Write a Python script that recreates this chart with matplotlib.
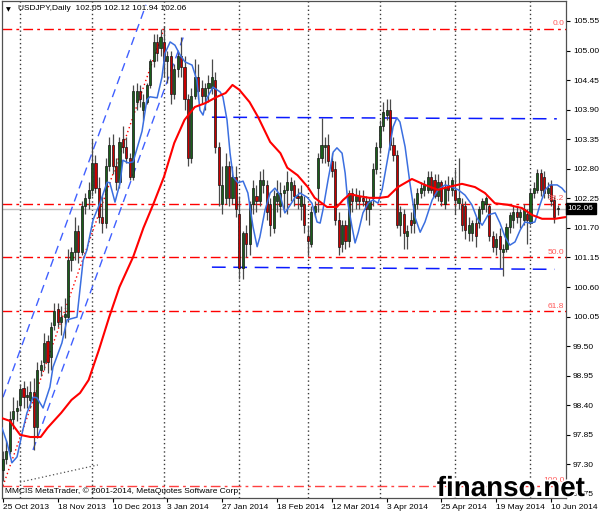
import matplotlib
matplotlib.use("Agg")
import matplotlib.pyplot as plt
import matplotlib.patheffects as pe
import matplotlib.transforms as mtransforms
import numpy as np

# ---------------- data ----------------
symbol = "USDJPY,Daily"
header_ohlc = ["102.05", "102.12", "101.94", "102.06"]

opens = [97.20, 97.40, 97.55, 98.15, 98.30, 98.40, 98.72, 98.55, 98.50, 98.65,
         98.00, 99.05, 99.20, 99.60, 99.30, 99.90, 100.20, 99.95, 100.05, 100.05,
         101.10, 101.25, 101.65, 101.25, 102.10, 102.25, 102.40, 102.90, 102.45, 101.90,
         101.80, 102.85, 103.25, 102.85, 102.55, 103.35, 103.20, 103.00, 102.65, 104.05,
         104.25, 103.90, 104.05, 104.35, 104.80, 105.15, 105.05, 105.15, 104.80, 104.90,
         104.20, 104.65, 104.90, 104.70, 104.10, 103.00, 104.15, 104.50, 104.30, 104.15,
         104.30, 104.30, 104.45, 103.20, 102.15, 102.25, 102.85, 102.25, 102.65, 101.95,
         100.95, 101.60, 101.40, 102.15, 102.30, 102.20, 102.50, 102.50, 102.15, 101.70,
         102.20, 102.10, 102.35, 102.40, 102.40, 102.50, 102.30, 102.10, 102.15, 101.55,
         101.40, 102.00, 102.45, 103.00, 103.20, 103.25, 102.95, 102.80, 101.85, 101.40,
         101.75, 101.45, 102.35, 102.20, 102.30, 102.25, 102.20, 102.05, 102.25, 102.80,
         103.20, 103.60, 103.80, 103.90, 103.25, 103.05, 101.75, 101.95, 101.55, 101.85,
         101.80, 102.15, 102.35, 102.40, 102.40, 102.65, 102.60, 102.30, 102.55, 102.15,
         102.50, 102.41, 102.41, 102.16, 102.13, 102.10, 101.60, 101.60, 101.80, 101.80,
         102.05, 102.15, 102.10, 101.55, 101.35, 101.55, 101.25, 101.30, 101.72, 101.85,
         102.00, 101.90, 101.85, 101.95, 101.80, 102.35, 102.40, 102.72, 102.65, 102.35,
         102.50, 102.22, 102.05]
highs = [97.55, 97.75, 98.30, 98.55, 98.50, 98.80, 98.85, 98.75, 98.85, 98.90,
         99.20, 99.25, 99.75, 99.70, 99.95, 100.30, 100.30, 100.25, 100.40, 101.30,
         101.35, 101.90, 101.75, 102.20, 102.35, 102.55, 103.35, 103.05, 102.65, 102.30,
         103.00, 103.40, 103.45, 103.00, 103.40, 103.60, 103.40, 103.10, 104.35, 104.40,
         104.35, 104.20, 104.40, 104.85, 105.30, 105.30, 105.40, 105.45, 105.00, 105.00,
         104.75, 105.00, 105.25, 104.90, 104.20, 104.30, 104.85, 104.75, 104.45, 104.40,
         104.55, 104.85, 104.60, 103.30, 102.85, 103.10, 102.95, 102.85, 102.85, 102.30,
         101.65, 101.75, 102.20, 102.60, 102.50, 102.75, 102.80, 102.60, 102.25, 102.40,
         102.60, 102.55, 102.50, 102.75, 102.65, 102.60, 102.45, 102.50, 102.30, 101.75,
         102.10, 102.20, 103.10, 103.75, 103.40, 103.45, 103.10, 102.95, 102.00, 101.85,
         101.85, 102.40, 102.45, 102.45, 102.40, 102.40, 102.30, 102.25, 102.90, 103.30,
         103.70, 104.05, 104.10, 104.10, 103.40, 103.15, 102.10, 102.05, 101.75, 102.00,
         102.25, 102.45, 102.55, 102.60, 102.75, 102.75, 102.70, 102.70, 102.60, 102.60,
         102.66, 102.65, 102.79, 103.00, 102.25, 102.20, 101.90, 101.85, 101.90, 102.10,
         102.25, 102.30, 102.15, 101.65, 101.60, 101.70, 101.40, 101.80, 102.00, 102.10,
         102.10, 102.05, 102.15, 102.05, 102.45, 102.55, 102.80, 102.80, 102.75, 102.55,
         102.60, 102.30, 102.12]
lows = [97.00, 97.30, 97.50, 97.95, 98.10, 98.30, 98.35, 98.35, 98.35, 97.57,
        97.80, 98.95, 99.05, 99.00, 99.05, 99.80, 99.85, 99.70, 99.65, 99.95,
        100.90, 101.10, 101.05, 101.20, 101.95, 102.05, 102.30, 102.35, 101.80, 101.60,
        101.70, 102.75, 102.70, 102.40, 102.45, 103.10, 102.90, 102.60, 102.60, 103.90,
        103.95, 103.70, 104.00, 104.30, 104.70, 104.80, 104.90, 104.50, 104.40, 104.00,
        104.10, 104.50, 104.50, 103.90, 102.85, 102.90, 104.10, 104.10, 104.00, 103.90,
        104.05, 104.20, 103.10, 102.10, 101.95, 102.15, 102.10, 102.15, 101.90, 100.75,
        100.75, 101.15, 101.20, 101.95, 102.00, 102.10, 102.35, 101.85, 101.55, 101.60,
        102.00, 101.90, 102.05, 101.95, 102.20, 102.10, 102.05, 101.85, 101.60, 101.20,
        101.35, 101.90, 102.00, 102.90, 102.90, 102.85, 102.65, 101.75, 101.20, 101.25,
        101.30, 101.35, 102.00, 102.05, 102.05, 102.10, 101.85, 101.75, 102.10, 102.70,
        103.10, 103.50, 103.70, 103.15, 102.95, 101.70, 101.55, 101.30, 101.30, 101.60,
        101.60, 102.05, 102.25, 102.30, 102.35, 102.35, 102.25, 102.20, 102.10, 102.05,
        102.20, 102.30, 101.95, 102.05, 101.65, 101.50, 101.45, 101.45, 101.35, 101.70,
        101.95, 102.00, 101.45, 101.25, 101.20, 100.95, 100.80, 101.25, 101.60, 101.70,
        101.80, 101.70, 101.75, 101.40, 101.75, 102.25, 102.35, 102.30, 102.25, 102.25,
        102.10, 101.80, 101.94]
closes = [97.40, 97.55, 98.15, 98.30, 98.35, 98.70, 98.55, 98.60, 98.65, 98.00,
          99.05, 99.15, 99.55, 99.20, 99.85, 100.15, 99.95, 100.05, 100.10, 101.10,
          101.25, 101.65, 101.25, 102.10, 102.25, 102.40, 102.90, 102.45, 101.90, 101.80,
          102.85, 103.25, 102.85, 102.55, 103.30, 103.20, 103.00, 102.65, 104.25, 104.25,
          104.10, 104.05, 104.35, 104.80, 105.15, 104.95, 105.25, 104.80, 104.90, 104.20,
          104.65, 104.90, 104.70, 104.10, 103.00, 104.15, 104.50, 104.25, 104.15, 104.30,
          104.40, 104.50, 103.20, 102.50, 102.50, 102.85, 102.25, 102.65, 102.05, 100.95,
          101.60, 101.40, 102.15, 102.45, 102.20, 102.60, 102.60, 102.00, 101.75, 102.30,
          102.35, 102.35, 102.40, 102.55, 102.55, 102.30, 102.25, 102.30, 101.75, 101.45,
          102.00, 102.10, 103.00, 103.25, 103.25, 102.95, 102.75, 101.85, 101.35, 101.75,
          101.45, 102.35, 102.20, 102.30, 102.20, 102.20, 102.05, 102.20, 102.80, 103.20,
          103.60, 103.85, 103.90, 103.25, 103.05, 101.75, 102.00, 101.60, 101.65, 101.75,
          102.15, 102.35, 102.45, 102.50, 102.65, 102.40, 102.30, 102.55, 102.20, 102.45,
          102.41, 102.59, 102.22, 102.26, 101.75, 101.66, 101.75, 101.80, 101.55, 102.05,
          102.20, 102.25, 101.55, 101.35, 101.50, 101.30, 101.30, 101.72, 101.94, 102.00,
          101.90, 102.00, 102.05, 101.85, 102.35, 102.45, 102.72, 102.40, 102.35, 102.45,
          102.20, 101.90, 102.06]

date_labels = ["25 Oct 2013", "18 Nov 2013", "10 Dec 2013", "3 Jan 2014", "27 Jan 2014",
               "18 Feb 2014", "12 Mar 2014", "3 Apr 2014", "25 Apr 2014", "19 May 2014",
               "10 Jun 2014"]
date_label_bars = [0, 16, 32, 48, 64, 80, 96, 112, 128, 144, 160]
month_start_bars = [5, 26, 47, 69, 89, 110, 132, 154]

price_ticks = [96.75, 97.30, 97.85, 98.40, 98.95, 99.50, 100.05, 100.60, 101.15,
               101.70, 102.25, 102.80, 103.35, 103.90, 104.45, 105.00, 105.55]

red_ma_bars = [-0.3, 2, 5, 8, 11, 13, 17, 20, 22.5, 25, 28, 31, 34, 38, 41, 44, 47, 50, 53,
               56, 59, 62.5, 65, 67, 69, 72, 74.5, 78, 81, 83, 86, 89, 91, 94.6, 97.5, 99.3,
               101.3, 104, 107, 110, 112.4, 115.3, 119.4, 123.2, 127, 130, 134, 137.8, 140.7,
               143.6, 147.4, 151.5, 154.5, 157.4, 161.2, 164.1]
red_ma_vals = [98.16, 98.11, 97.85, 97.81, 97.81, 97.98, 98.26, 98.50, 98.63, 98.87,
               99.43, 100.04, 100.60, 101.16, 101.70, 102.16, 102.65, 103.28, 103.71,
               103.95, 104.02, 104.14, 104.21, 104.36, 104.27, 104.04, 103.76, 103.30,
               103.09, 102.82, 102.68, 102.46, 102.26, 102.09, 102.09, 102.22, 102.33,
               102.29, 102.26, 102.26, 102.28, 102.46, 102.61, 102.50, 102.41, 102.46,
               102.52, 102.46, 102.35, 102.16, 102.13, 102.07, 101.94, 101.87, 101.87, 101.90]

blue_ma_bars = [-0.3, 1.2, 2.6, 4.1, 5.8, 7.0, 8.8, 9.9, 11.7, 13.7, 14.6, 17.2, 18.7,
                21.6, 23.4, 24.5, 26.3, 28.3, 30.4, 31.2, 32.7, 34.2, 35.0, 36.5, 38.0,
                40.6, 42.0, 42.9, 45.0, 46.4, 47.3, 48.8, 50.2, 51.7, 53.1, 55.2, 56.6,
                57.5, 58.4, 59.6, 61.3, 63.4, 64.2, 65.4, 66.3, 67.2, 68.6, 70.1, 71.5,
                73.0, 74.2, 75.0, 76.5, 78.0, 79.4, 80.9, 82.3, 83.5, 85.3, 86.7, 88.8,
                90.2, 91.7, 92.6, 93.4, 94.9, 96.4, 97.5, 99.0, 99.9, 100.7, 101.9, 102.8,
                103.7, 105.1, 106.6, 108.0, 109.5, 110.7, 112.4, 113.9, 115.0, 115.9, 117.4,
                118.8, 120.3, 121.8, 123.2, 125.3, 127.0, 129.1, 131.1, 132.9, 134.9, 136.9,
                138.4, 139.9, 141.6, 143.7, 145.1, 146.6, 148.0, 149.5, 151.0, 152.4, 153.9,
                155.3, 156.8, 158.3, 159.7, 161.8, 163.2, 164.1]
blue_ma_vals = [97.98, 97.70, 97.33, 97.44, 97.94, 98.26, 98.55, 98.54, 98.35, 98.74,
                99.11, 99.56, 99.99, 100.04, 101.10, 101.29, 101.85, 102.16, 102.55, 102.54,
                102.18, 102.54, 102.96, 102.91, 102.93, 103.50, 104.08, 104.14, 104.12,
                104.50, 104.95, 105.16, 105.10, 104.92, 104.79, 104.73, 104.45, 103.89,
                103.80, 104.12, 104.32, 104.23, 104.14, 103.71, 103.09, 102.65, 102.54,
                102.57, 102.35, 101.72, 101.35, 101.53, 102.03, 102.35, 102.44, 102.31,
                101.98, 102.09, 102.27, 102.35, 102.27, 102.16, 101.81, 101.79, 102.03,
                102.59, 103.11, 103.19, 103.09, 102.72, 102.16, 101.72, 101.42, 101.61,
                101.98, 102.16, 102.22, 102.16, 102.41, 103.02, 103.58, 103.75, 103.67,
                103.21, 102.54, 101.90, 101.62, 101.81, 102.22, 102.41, 102.50, 102.46,
                102.41, 102.31, 102.13, 101.88, 101.75, 101.94, 101.98, 101.79, 101.53,
                101.38, 101.44, 101.66, 101.81, 101.79, 101.81, 102.13, 102.41, 102.50,
                102.50, 102.44, 102.37]

fib_anchor_bars = [0, 47]
fib_anchor_prices = [96.90, 105.40]
fib_levels = [0.0, 38.2, 50.0, 61.8, 100.0]

channel_upper_bars = [0.0, 41.75]
channel_upper_prices = [98.55, 105.85]
channel_lower_bars = [8.76, 53.1]
channel_lower_prices = [97.57, 105.33]
resistance_bars = [61.0, 161.7]
resistance_prices = [103.76, 103.73]
support_bars = [61.0, 161.0]
support_prices = [100.97, 100.93]
grey_trend_bars = [4.96, 27.7]
grey_trend_prices = [96.97, 97.29]

copyright_text = "MMCIS MetaTrader, \u00a9 2001-2014, MetaQuotes Software Corp."
watermark = "finanso.net"

# ---------------- figure ----------------
FONT = ["Liberation Sans", "DejaVu Sans"]
plt.rcParams["font.family"] = FONT

W, H = 600, 514
fig = plt.figure(figsize=(W / 100, H / 100), dpi=100, facecolor="white")
ax = fig.add_axes([2 / W, 1 - 498 / H, 564 / W, 497 / H])
ax.set_facecolor("white")

n = len(closes)
x = np.arange(n)
ax.set_xlim(-0.29, 164.38)
ax.set_ylim(96.675, 105.922)

# month separators
for b in month_start_bars:
    ax.axvline(b, color="#3a3a3a", lw=1.0, ls=(0, (1, 2)), zorder=1)

# fibonacci levels
f_hi, f_lo = fib_anchor_prices[1], fib_anchor_prices[0]
for lv in fib_levels:
    p = f_hi - lv / 100.0 * (f_hi - f_lo)
    col = "#ff0000" if lv < 100 else "#ff4040"
    ax.axhline(p, color=col, lw=1.0, ls=(0, (7, 3, 2, 3)), zorder=2)
    ax.text(163.9, p + 0.03, f"{lv:.1f}", color="#ff5a5a", fontsize=6,
            ha="right", va="bottom", zorder=6)
ax.plot(fib_anchor_bars, fib_anchor_prices, color="#ff0000", lw=1.0,
        ls=(0, (1, 2)), zorder=2)

# current price line
ax.axhline(closes[-1], color="#c0c0c0", lw=1.0, zorder=1.5)

# channel / trend lines
ax.plot(channel_upper_bars, channel_upper_prices, color="#4060ff", lw=1.0,
        ls=(0, (6, 4)), zorder=2)
ax.plot(channel_lower_bars, channel_lower_prices, color="#4060ff", lw=1.0,
        ls=(0, (6, 4)), zorder=2)
ax.plot(resistance_bars, resistance_prices, color="#0a1aff", lw=1.1,
        ls=(0, (9, 5)), zorder=2)
ax.plot(support_bars, support_prices, color="#0a1aff", lw=1.1,
        ls=(0, (9, 5)), zorder=2)
ax.plot(grey_trend_bars, grey_trend_prices, color="#505050", lw=0.9,
        ls=(0, (1, 2)), zorder=2)

# candles
o = np.array(opens); h = np.array(highs); l = np.array(lows); c = np.array(closes)
ax.vlines(x, l, h, color="#4a4a4a", lw=0.9, zorder=3)
body_bottom = np.minimum(o, c)
body_height = np.maximum(np.abs(c - o), 0.012)
body_colors = ["#1a5e1a" if cc >= oo else "#c80000" for oo, cc in zip(o, c)]
ax.bar(x, body_height, bottom=body_bottom, width=0.62, color=body_colors,
       edgecolor="#151515", linewidth=0.5, zorder=4)

# moving averages
ax.plot(blue_ma_bars, blue_ma_vals, color="#3b6fe0", lw=1.1, zorder=5,
        solid_joinstyle="round")
ax.plot(red_ma_bars, red_ma_vals, color="#ff0000", lw=1.5, zorder=5,
        solid_joinstyle="round")

# axes styling
for s in ax.spines.values():
    s.set_color("#505050")
    s.set_linewidth(0.9)
ax.yaxis.tick_right()
ax.set_yticks(price_ticks)
ax.set_yticklabels([f"{v:.2f}" for v in price_ticks])
ax.tick_params(axis="y", direction="out", length=3, width=0.8, pad=2,
               labelsize=6, colors="#000000")
ax.set_xticks(date_label_bars)
ax.set_xticklabels(date_labels)
for lab in ax.get_xticklabels():
    lab.set_horizontalalignment("left")
ax.tick_params(axis="x", direction="out", length=3, width=0.8, pad=1.5,
               labelsize=6, colors="#000000")

# last price tag
trans = mtransforms.blended_transform_factory(ax.transAxes, ax.transData)
ax.text(1.003, closes[-1], f"{closes[-1]:.2f}", transform=trans, fontsize=6,
        color="white", ha="left", va="center", zorder=10, clip_on=False,
        bbox=dict(boxstyle="square,pad=0.25", fc="black", ec="black"))

# header
fig.text(6 / W, 1 - 9.5 / H, "\u25bc", fontsize=4.5, family="DejaVu Sans",
         ha="left", va="center")
fig.text(18 / W, 1 - 9 / H, symbol + "  " + " ".join(header_ohlc), fontsize=6,
         ha="left", va="center", color="black")

# copyright
fig.text(5 / W, 1 - 491 / H, copyright_text, fontsize=6, ha="left", va="center",
         color="black")

# watermark
fig.text(585 / W, 1 - 496 / H, watermark, fontsize=20, fontweight="bold",
         ha="right", va="baseline", color="black", zorder=20,
         path_effects=[pe.withStroke(linewidth=2.5, foreground="white")])

fig.savefig("out.png", dpi=100, facecolor="white")
